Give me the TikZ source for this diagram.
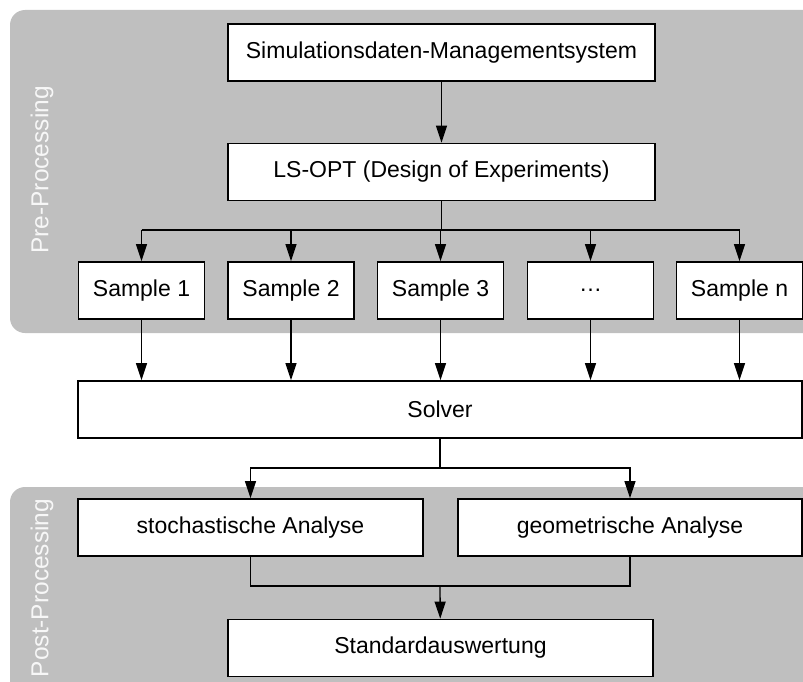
\documentclass[tikz,border=0pt]{standalone}
\usepackage{fontspec}
\setmainfont{Liberation Sans}
\usepackage{xcolor}
\usepackage{tikz}
\usetikzlibrary{calc, arrows.meta}
\definecolor{phaseBg}{HTML}{BFBFBF}
\definecolor{phaseText}{HTML}{F7F7F7}

\begin{document}
\begin{tikzpicture}[x=1pt, y=-1pt,
    box/.style={draw, line width=1.8pt, fill=white, inner sep=0pt,
        minimum height=57pt, font=\fontsize{23}{27}\selectfont},
    arr/.style={-{Triangle[length=17pt, width=11pt]}, line width=1.3pt},
    lnk/.style={line width=1.3pt},
    phase/.style={rotate=90, text=phaseText, font=\fontsize{24.5}{28}\selectfont}]
    \useasboundingbox (0, 0) rectangle (803, 682);

    % phase backgrounds
    \fill[phaseBg, rounded corners=15pt] (10, 10) rectangle (830, 333);
    \fill[phaseBg, rounded corners=15pt] (10, 487) rectangle (830, 710);
    \node[phase] (pre) at (42, 170) {Pre-Processing};
    \node[phase] (post) at (42, 588) {Post-Processing};

    \node[box, minimum width=427pt] (sdm) at (441.5, 52.5) {Simulationsdaten-Managementsystem};
    \node[box, minimum width=427pt] (lsopt) at (441.5, 172) {LS-OPT (Design of Experiments)};

    \foreach \i/\x/\txt in {1/141.5/Sample 1, 2/291/Sample 2, 3/440.5/Sample 3, 4/590.5/…, 5/739.5/Sample n}
        \node[box, minimum width=126pt] (s\i) at (\x, 290.5) {\txt};

    \node[box, minimum width=724pt] (solver) at (440, 409.5) {Solver};
    \node[box, minimum width=345pt] (stoch) at (250.5, 527.5) {stochastische Analyse};
    \node[box, minimum width=344pt] (geo) at (630, 527.5) {geometrische Analyse};
    \node[box, minimum width=425pt] (std) at (440.5, 648) {Standardauswertung};

    \coordinate (split) at (440, 230);
    \coordinate (fork) at (440, 468);
    \coordinate (join) at (440, 586);

    \draw[arr] (sdm) -- (sdm |- lsopt.north);
    \draw[lnk] (sdm |- lsopt.south) -- (sdm |- split);
    \draw[lnk] (s1 |- split) -- (s5 |- split);
    \foreach \i in {1, ..., 5} {
        \draw[arr] (s\i |- split) -- (s\i);
        \draw[arr] (s\i) -- (s\i |- solver.north);
    }

    \draw[lnk] (solver.south -| fork) -- (fork);
    \draw[arr] (fork) -| (stoch.north);
    \draw[arr] (fork) -| (geo.north);

    \draw[lnk] (stoch.south) |- (join) -| (geo.south);
    \draw[arr] (join) -- (std);
\end{tikzpicture}
\end{document}
